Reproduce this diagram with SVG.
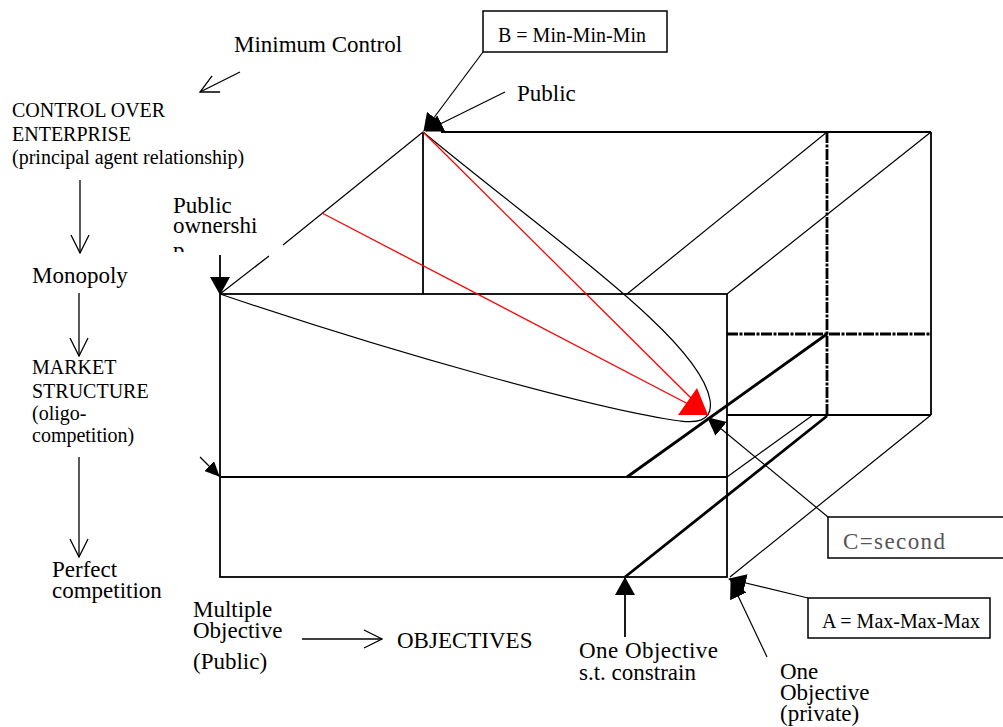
<svg xmlns="http://www.w3.org/2000/svg" width="1003" height="727" viewBox="0 0 1003 727">
<style>
  text { font-family: "Liberation Serif", "Times New Roman", serif; fill: #000; }
  .t23 { font-size: 23px; }
  .t20 { font-size: 20px; }
  .box { fill: #fff; stroke: #000; stroke-width: 1.5; }
  .edge { fill: none; stroke: #000; stroke-width: 1.8; }
  .thin { fill: none; stroke: #000; stroke-width: 1.2; }
  .thick { fill: none; stroke: #000; stroke-width: 2.8; }
  .dashdot { fill: none; stroke: #000; stroke-width: 2.8; stroke-dasharray: 11 1.5 3 1.5; }
  .red { fill: none; stroke: #f00; stroke-width: 1.3; }
  .ptr { fill: none; stroke: #000; stroke-width: 1.2; }
  .vee { fill: none; stroke: #000; stroke-width: 1.3; }
</style>
<defs>
  <marker id="tri" viewBox="0 0 18 18" refX="17" refY="9" markerUnits="userSpaceOnUse" markerWidth="18" markerHeight="18" orient="auto">
    <path d="M0,0 L18,9 L0,18 z" fill="#000"/>
  </marker>
  <marker id="triL" viewBox="0 0 18 20" refX="17" refY="10" markerUnits="userSpaceOnUse" markerWidth="18" markerHeight="20" orient="auto">
    <path d="M0,0 L18,10 L0,20 z" fill="#000"/>
  </marker>
  <marker id="triS" viewBox="0 0 15 14" refX="14" refY="7" markerUnits="userSpaceOnUse" markerWidth="15" markerHeight="14" orient="auto">
    <path d="M0,0 L15,7 L0,14 z" fill="#000"/>
  </marker>
  <marker id="vee" viewBox="0 0 20 20" refX="19" refY="10" markerUnits="userSpaceOnUse" markerWidth="20" markerHeight="20" orient="auto">
    <path d="M1,1 L19,10 L1,19" fill="none" stroke="#000" stroke-width="1.3"/>
  </marker>
  <clipPath id="pclip"><rect x="165" y="244" width="30" height="8"/></clipPath>
</defs>

<!-- cube drawing -->
<g id="cube">
  <rect x="220" y="294" width="507" height="283" class="edge"/>
  <line x1="220" y1="477" x2="727" y2="477" class="edge"/>
  <line x1="441" y1="132" x2="931" y2="132" class="edge"/>
  <line x1="423" y1="132" x2="423" y2="294" class="edge"/>
  <line x1="931" y1="132" x2="931" y2="415" class="edge"/>
  <line x1="727" y1="415" x2="931" y2="415" class="edge"/>
  <line x1="220" y1="294" x2="269" y2="256" class="thin"/>
  <line x1="283" y1="245" x2="423" y2="132" class="thin"/>
  <line x1="627" y1="294" x2="827" y2="132" class="thin"/>
  <line x1="727" y1="294" x2="931" y2="132" class="thin"/>
  <line x1="727" y1="477" x2="813" y2="415" class="thin"/>
  <line x1="931" y1="415" x2="730" y2="577" class="thin"/>
  <line x1="827" y1="132" x2="827" y2="416" class="dashdot"/>
  <line x1="727" y1="334" x2="931" y2="334" class="dashdot"/>
  <line x1="627" y1="477" x2="827" y2="334" class="thick"/>
  <line x1="625" y1="577" x2="827" y2="416" class="thick"/>
  <path d="M423,132 C560,245 700,340 710,400 C714,425 690,422 680,421 C600,410 400,355 220,294" class="thin" stroke-width="1.6"/>
  <line x1="423" y1="132" x2="695" y2="402" class="red"/>
  <line x1="322" y1="213" x2="690" y2="405" class="red"/>
  <polygon points="678,415 697,388 708,415" fill="#f00"/>
</g>

<!-- connectors -->
<g id="connectors">
  <line x1="483" y1="52" x2="424" y2="131" class="ptr" marker-end="url(#tri)"/>
  <line x1="505" y1="92" x2="426" y2="131" class="ptr" marker-end="url(#tri)"/>
  <line x1="220" y1="255" x2="220" y2="294" class="edge" marker-end="url(#triL)"/>
  <line x1="200" y1="457" x2="219" y2="476" class="ptr" marker-end="url(#triS)"/>
  <line x1="828" y1="517" x2="708" y2="418" class="ptr" marker-end="url(#tri)"/>
  <line x1="808" y1="598" x2="729" y2="579" class="ptr" marker-end="url(#tri)"/>
  <line x1="767" y1="657" x2="731" y2="581" class="ptr" marker-end="url(#tri)"/>
  <line x1="625" y1="637" x2="625" y2="578" class="edge" marker-end="url(#triL)"/>
  <line x1="240" y1="72" x2="200" y2="92" class="vee" marker-end="url(#vee)"/>
  <line x1="80" y1="180" x2="80" y2="253" class="vee" marker-end="url(#vee)"/>
  <line x1="79" y1="293" x2="79" y2="356" class="vee" marker-end="url(#vee)"/>
  <line x1="79" y1="457" x2="79" y2="557" class="vee" marker-end="url(#vee)"/>
  <line x1="302" y1="639" x2="382" y2="639" class="vee" marker-end="url(#vee)"/>
</g>

<!-- labels / nodes -->
<g id="minimum-control"><text x="234" y="52" class="t23">Minimum Control</text></g>
<g id="control-over-enterprise">
  <text x="12" y="117" class="t20">CONTROL OVER</text>
  <text x="12" y="141" class="t20">ENTERPRISE</text>
  <text x="12" y="164" class="t20">(principal agent relationship)</text>
</g>
<g id="monopoly"><text x="32" y="283" class="t23">Monopoly</text></g>
<g id="market-structure">
  <text x="32" y="374" class="t20">MARKET</text>
  <text x="32" y="398" class="t20">STRUCTURE</text>
  <text x="32" y="420" class="t20">(oligo-</text>
  <text x="32" y="442" class="t20">competition)</text>
</g>
<g id="perfect-competition">
  <text x="52" y="577" class="t23">Perfect</text>
  <text x="52" y="598" class="t23">competition</text>
</g>
<g id="multiple-objective">
  <text x="193" y="617" class="t23">Multiple</text>
  <text x="193" y="638" class="t23">Objective</text>
  <text x="193" y="669" class="t23">(Public)</text>
</g>
<g id="objectives"><text x="397" y="648" class="t23">OBJECTIVES</text></g>
<g id="box-b">
  <rect x="483" y="11" width="184" height="41" class="box"/>
  <text x="498" y="42" class="t20">B = Min-Min-Min</text>
</g>
<g id="public-top"><text x="517" y="101" class="t23">Public</text></g>
<g id="public-ownership">
  <text x="173" y="213" class="t23">Public</text>
  <text x="173" y="233" class="t23">ownershi</text>
  <text x="173" y="258" class="t23" clip-path="url(#pclip)">p</text>
</g>
<g id="box-c">
  <rect x="828" y="517" width="190" height="41" class="box"/>
  <text x="843" y="549" class="t23" style="fill:#555" textLength="102" lengthAdjust="spacing">C=second</text>
</g>
<g id="box-a">
  <rect x="808" y="598" width="182" height="40" class="box"/>
  <text x="822" y="628" class="t20">A = Max-Max-Max</text>
</g>
<g id="one-objective-constrain">
  <text x="579" y="658" class="t23" textLength="139" lengthAdjust="spacing">One Objective</text>
  <text x="579" y="680" class="t23">s.t. constrain</text>
</g>
<g id="one-objective-private">
  <text x="780" y="679" class="t23">One</text>
  <text x="780" y="700" class="t23">Objective</text>
  <text x="780" y="721" class="t23">(private)</text>
</g>
</svg>
